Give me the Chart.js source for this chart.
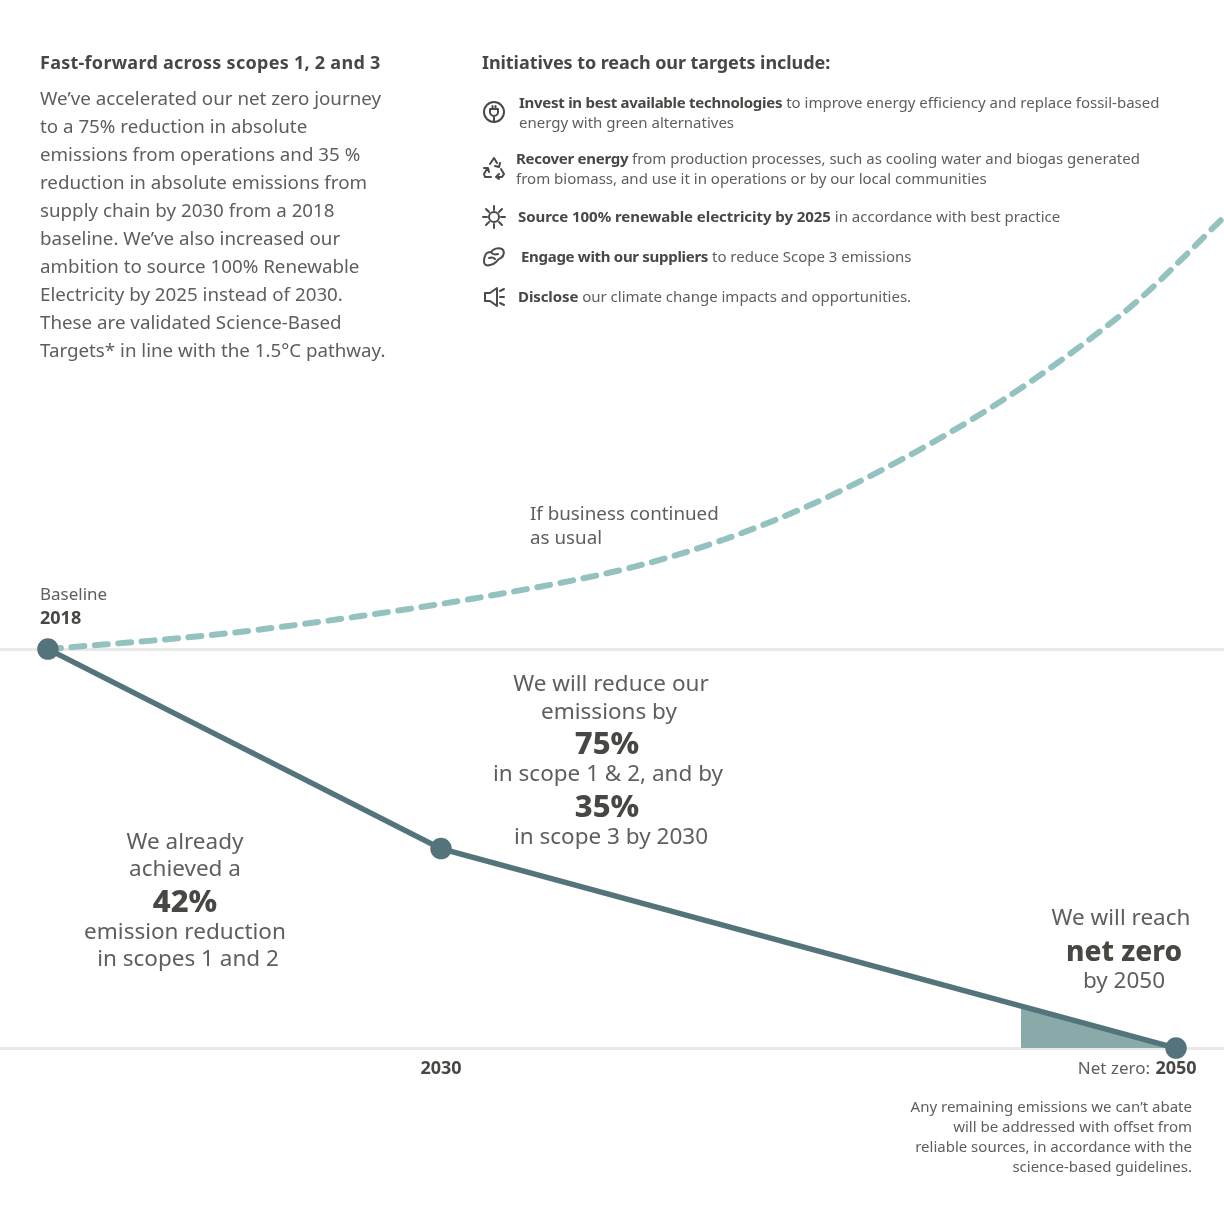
<!DOCTYPE html>
<html>
<head>
<meta charset="utf-8">
<script src="https://cdn.jsdelivr.net/npm/chart.js@4/dist/chart.umd.min.js"></script>
<style>
html, body { margin: 0; padding: 0; background: #fff; }
#wrap { position: relative; width: 1224px; height: 1224px; overflow: hidden; font-family: "Noto Sans", sans-serif; color: #5e5e5c; }
canvas { position: absolute; left: 0; top: 0; }
.t { position: absolute; white-space: nowrap; transform: translateY(calc(-50% - 1px)); }
.c { transform: translate(-50%, calc(-50% - 1px)); }
.r { transform: translate(-100%, calc(-50% - 1px)); }
.top { transform: translateY(-50%); }
b { color: #474744; font-weight: 700; }
.head { font-size: 18px; font-weight: 700; color: #474744; }
.para { font-size: 18.75px; }
.item { font-size: 15px; }
.big { font-size: 22.5px; }
.num { font-size: 31px; font-weight: 800; color: #474744; }
.lab { font-size: 17px; }
.note { font-size: 15px; }
svg.ic { position: absolute; fill: none; stroke: #4a4a48; stroke-width: 2; stroke-linecap: round; stroke-linejoin: round; }
</style>
</head>
<body>
<div id="wrap">
  <canvas id="chart" width="1224" height="1224"></canvas>

  <div class="t top head" style="left:40px;top:62px;letter-spacing:.27px">Fast-forward across scopes 1, 2 and 3</div>
  <div class="t para" style="left:40px;top:98px">We’ve accelerated our net zero journey</div>
  <div class="t para" style="left:40px;top:126px">to a 75% reduction in absolute</div>
  <div class="t para" style="left:40px;top:154px">emissions from operations and 35 %</div>
  <div class="t para" style="left:40px;top:182px">reduction in absolute emissions from</div>
  <div class="t para" style="left:40px;top:210px">supply chain by 2030 from a 2018</div>
  <div class="t para" style="left:40px;top:238px">baseline. We’ve also increased our</div>
  <div class="t para" style="left:40px;top:266px">ambition to source 100% Renewable</div>
  <div class="t para" style="left:40px;top:294px">Electricity by 2025 instead of 2030.</div>
  <div class="t para" style="left:40px;top:322px">These are validated Science-Based</div>
  <div class="t para" style="left:40px;top:350px">Targets* in line with the 1.5°C pathway.</div>

  <div class="t top head" style="left:482px;top:62px;letter-spacing:-.07px">Initiatives to reach our targets include:</div>
  <div class="t top item" style="left:519px;top:102px"><b style="letter-spacing:-.27px">Invest in best available technologies</b> to improve energy efficiency and replace fossil-based</div>
  <div class="t top item" style="left:519px;top:122px">energy with green alternatives</div>
  <div class="t top item" style="left:516px;top:158px"><b style="letter-spacing:-.27px">Recover energy</b> from production processes, such as cooling water and biogas generated</div>
  <div class="t top item" style="left:516px;top:178px">from biomass, and use it in operations or by our local communities</div>
  <div class="t top item" style="left:518px;top:216px"><b style="letter-spacing:-.05px">Source 100% renewable electricity by 2025</b> in accordance with best practice</div>
  <div class="t top item" style="left:521px;top:256px"><b style="letter-spacing:-.3px">Engage with our suppliers</b> to reduce Scope 3 emissions</div>
  <div class="t top item" style="left:518px;top:296px"><b style="letter-spacing:-.1px">Disclose</b> our climate change impacts and opportunities.</div>

  <svg class="ic" style="left:482px;top:100px" width="24" height="24" viewBox="0 0 24 24">
    <circle cx="12" cy="12" r="10"/><path d="M8 9v3a4 4 0 0 0 8 0V9zM10.5 9V6M13.5 9V6M12 16v6"/>
  </svg>
  <svg class="ic" style="left:482px;top:156px" width="24" height="24" viewBox="0 0 24 24">
    <path d="M8 8l4-6 3 5M18 7l-1 4-4-1M19 13l3 5-2 3h-5M17 18l-3 3 3 2M9 21H3l-1-3 3-5M2 12l4 0 1 4"/>
  </svg>
  <svg class="ic" style="left:482px;top:205px" width="24" height="24" viewBox="0 0 24 24">
    <circle cx="12" cy="12" r="5"/><path d="M12 1v4M12 19v4M1 12h4M19 12h4M4 4l3 3M17 17l3 3M4 20l3-3M17 7l3-3"/>
  </svg>
  <svg class="ic" style="left:482px;top:245px" width="24" height="24" viewBox="0 0 24 24">
    <path d="M3 11c1-4 4-4 6-4 2-3 7-5 11-3 3 2 2 7-1 9-2 0-3 2-5 4-2 2-4 3-6 3-3 1-6 0-6-3 0-2 0-4 1-6zM9 7c1 2 4 3 7 2M7 13c3-1 5 0 6 1"/>
  </svg>
  <svg class="ic" style="left:482px;top:285px" width="24" height="24" viewBox="0 0 24 24">
    <path d="M3 8h5l7-5v18l-7-5H3zM18 6l4-2M18 12h4M18 18l4 2"/>
  </svg>

  <div class="t top" style="left:530px;top:513px;font-size:18.8px">If business continued</div>
  <div class="t top" style="left:530px;top:537px;font-size:18.8px">as usual</div>

  <div class="t lab" style="left:40px;top:594px">Baseline</div>
  <div class="t lab" style="left:40px;top:618px"><b style="font-size:18px">2018</b></div>

  <div class="t big c" style="left:611px;top:683px">We will reduce our</div>
  <div class="t big c" style="left:609px;top:711px">emissions by</div>
  <div class="t num c" style="left:607px;top:743px">75%</div>
  <div class="t big c" style="left:608px;top:773px">in scope 1 &amp; 2, and by</div>
  <div class="t num c" style="left:607px;top:806px">35%</div>
  <div class="t big c" style="left:611px;top:836px">in scope 3 by 2030</div>

  <div class="t big c" style="left:185px;top:841px">We already</div>
  <div class="t big c" style="left:185px;top:868px">achieved a</div>
  <div class="t num c" style="left:185px;top:901px">42%</div>
  <div class="t big c" style="left:185px;top:931px">emission reduction</div>
  <div class="t big c" style="left:188px;top:958px">in scopes 1 and 2</div>

  <div class="t big c" style="left:1121px;top:917px">We will reach</div>
  <div class="t num c" style="left:1124px;top:951px;font-size:28px">net zero</div>
  <div class="t big c" style="left:1124px;top:980px">by 2050</div>

  <div class="t lab r" style="left:1150px;top:1068px">Net zero:</div>

  <div class="t note r" style="left:1192px;top:1107px">Any remaining emissions we can’t abate</div>
  <div class="t note r" style="left:1192px;top:1127px">will be addressed with offset from</div>
  <div class="t note r" style="left:1192px;top:1147px">reliable sources, in accordance with the</div>
  <div class="t note r" style="left:1192px;top:1167px">science-based guidelines.</div>
</div>

<script>
// x is read as years along the drawn axis, y as % of the 2018 emissions
const pathwayYears = [2018, 2029.15, 2050];
const pathwayValues = [100, 50, 0];

const usualYears = [2018, 2022.71, 2026.73, 2030.74, 2034.61, 2037.22, 2039.77, 2042.21, 2044.6, 2046.88, 2049, 2051.36];
const usualValues = [100, 103.6, 108.1, 113.7, 120.6, 127.6, 136.7, 147.5, 159.7, 173.3, 188, 208.3];

const residualYears = [2045.6, 2050];
const residualValues = [10.8, 0];

const tickYears = [2029.15, 2050];
const tickLabels = ['2030', '2050'];
const gridValues = [0, 100];

const zip = (xs, ys) => xs.map((x, i) => ({ x: x, y: ys[i] }));

new Chart(document.getElementById('chart').getContext('2d'), {
    type: 'line',
    data: {
        datasets: [
            {
                data: zip(pathwayYears, pathwayValues),
                borderColor: '#54747b',
                backgroundColor: '#54747b',
                borderWidth: 5.5,
                pointRadius: 8,
                pointHoverRadius: 8,
                tension: 0,
                order: 1
            },
            {
                data: zip(usualYears, usualValues),
                borderColor: '#93c2c0',
                borderWidth: 6,
                borderDash: [13, 10.5],
                borderCapStyle: 'round',
                pointRadius: 0,
                cubicInterpolationMode: 'monotone',
                order: 2
            },
            {
                data: zip(residualYears, residualValues),
                borderWidth: 0,
                backgroundColor: '#8aa9a9',
                pointRadius: 0,
                fill: 'origin',
                tension: 0,
                order: 3
            }
        ]
    },
    options: {
        responsive: false,
        animation: false,
        layout: { padding: 0, autoPadding: false },
        plugins: { legend: { display: false }, tooltip: { enabled: false } },
        scales: {
            x: {
                type: 'linear',
                position: { y: 0 },
                min: 2016.64,
                max: 2051.36,
                afterBuildTicks: axis => { axis.ticks = tickYears.map(v => ({ value: v })); },
                grid: { display: false },
                border: { display: false },
                ticks: {
                    autoSkip: false,
                    maxRotation: 0,
                    padding: 2,
                    color: '#474744',
                    font: { family: 'Noto Sans', size: 18, weight: 'bold' },
                    callback: value => tickLabels[tickYears.indexOf(value)]
                }
            },
            y: {
                type: 'linear',
                min: -44.1,
                max: 262.7,
                afterBuildTicks: axis => { axis.ticks = gridValues.map(v => ({ value: v })); },
                grid: { color: '#e9e9e8', lineWidth: 3, drawTicks: false },
                border: { display: false },
                ticks: { display: false }
            }
        }
    }
});
</script>
</body>
</html>
